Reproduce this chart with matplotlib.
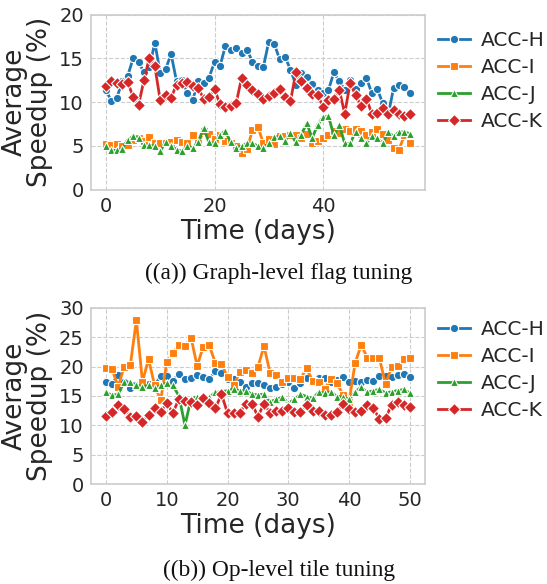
import matplotlib
matplotlib.use("Agg")
import matplotlib.pyplot as plt
import numpy as np

# ---------------- data ----------------
series_names = ["ACC-H", "ACC-I", "ACC-J", "ACC-K"]

graph_H = [11.4, 10.1, 10.5, 12.4, 13.0, 15.0, 14.6, 13.4, 14.0, 16.8, 13.3, 13.8, 15.5, 12.4, 12.5,
           11.1, 10.3, 12.4, 12.2, 12.8, 14.6, 14.1, 16.4, 16.0, 16.2, 15.6, 16.0, 14.6, 14.1, 14.0,
           16.9, 16.7, 14.9, 15.2, 13.7, 12.0, 13.3, 12.9, 12.1, 11.4, 11.1, 11.4, 13.4, 12.4, 11.4,
           12.5, 11.5, 12.2, 12.8, 11.0, 11.5, 9.9, 8.5, 11.6, 12.0, 11.7, 11.1]
graph_I = [5.2, 5.1, 5.2, 5.0, 5.1, 5.7, 5.9, 5.6, 6.0, 5.3, 5.3, 5.3, 5.5, 5.7, 5.5,
           5.3, 6.2, 5.3, 6.7, 6.4, 5.8, 6.3, 5.6, 5.3, 5.0, 4.2, 4.7, 6.8, 7.2, 5.3,
           5.8, 5.2, 6.1, 6.1, 6.3, 6.2, 5.9, 6.4, 5.3, 5.6, 5.9, 6.3, 6.7, 6.5, 6.9,
           6.7, 6.9, 6.7, 6.2, 6.6, 6.9, 6.4, 5.7, 4.8, 4.6, 6.2, 5.3]
graph_J = [5.0, 4.5, 4.5, 4.7, 5.7, 6.1, 5.9, 5.1, 5.1, 5.0, 4.4, 5.5, 5.0, 4.6, 4.4,
           5.0, 4.8, 5.5, 7.0, 5.4, 5.3, 6.3, 6.7, 5.4, 4.8, 5.0, 5.3, 5.3, 5.0, 4.8,
           5.3, 6.0, 6.1, 5.6, 6.5, 5.4, 6.3, 7.6, 5.9, 7.4, 8.3, 8.4, 6.2, 7.4, 5.3,
           5.3, 6.6, 5.9, 5.3, 6.1, 5.9, 5.3, 6.6, 6.1, 6.6, 6.6, 6.4]
graph_K = [11.9, 12.4, 12.2, 12.1, 12.3, 10.6, 9.7, 12.5, 15.1, 14.1, 10.2, 10.8, 10.5, 12.0, 12.2,
           12.3, 11.9, 11.6, 10.4, 10.6, 11.5, 9.8, 9.5, 9.6, 9.9, 12.8, 12.0, 11.4, 10.9, 10.4,
           10.7, 11.1, 11.5, 10.6, 10.1, 13.4, 12.4, 11.6, 10.9, 10.8, 9.5, 10.2, 10.4, 11.4, 8.7,
           12.2, 10.8, 9.6, 10.4, 8.7, 8.8, 9.3, 8.7, 9.1, 8.6, 8.4, 8.7]

op_H = [17.3, 17.1, 18.5, 17.3, 16.3, 16.8, 16.5, 17.0, 16.8, 18.4, 18.4, 17.6, 18.8, 17.8, 18.1,
        18.6, 18.2, 17.8, 19.3, 18.9, 17.8, 17.8, 17.3, 16.6, 17.2, 17.2, 16.9, 16.4, 16.6, 17.0,
        17.3, 16.4, 17.2, 18.0, 17.6, 18.0, 18.0, 17.4, 17.7, 18.2, 17.3, 17.6, 17.3, 17.7, 17.6,
        18.4, 18.4, 18.2, 18.6, 18.8, 18.2]
op_I = [19.7, 19.5, 16.6, 20.0, 20.2, 27.9, 17.4, 21.3, 16.8, 14.3, 20.7, 22.3, 23.7, 23.5, 24.9,
        20.1, 23.4, 23.6, 20.6, 20.5, 18.2, 16.8, 19.0, 19.4, 18.9, 19.9, 23.5, 18.9, 18.6, 17.4,
        18.1, 18.0, 17.9, 19.7, 17.6, 17.4, 16.2, 17.9, 17.2, 15.2, 14.0, 20.6, 23.7, 21.5, 21.5,
        21.4, 17.0, 19.9, 20.1, 21.3, 21.4]
op_J = [15.6, 15.1, 15.3, 17.4, 17.3, 16.8, 16.6, 16.8, 16.3, 16.8, 17.2, 16.8, 15.0, 10.0, 14.6,
        14.8, 14.6, 14.8, 15.6, 15.7, 15.9, 16.2, 15.9, 15.9, 15.3, 15.2, 15.3, 14.0, 14.4, 14.8,
        13.8, 14.4, 15.3, 14.9, 14.6, 15.6, 15.5, 15.7, 14.9, 14.9, 14.4, 15.7, 16.5, 15.6, 15.9,
        16.1, 15.5, 15.7, 15.9, 16.1, 15.5]
op_K = [11.6, 12.3, 13.5, 12.7, 11.4, 11.6, 10.6, 11.8, 12.9, 12.3, 13.8, 12.1, 14.5, 14.1, 13.9,
        13.5, 14.6, 13.8, 12.9, 15.3, 12.1, 12.1, 12.1, 13.7, 13.7, 11.5, 13.7, 12.1, 12.5, 12.5,
        12.9, 12.2, 12.3, 13.4, 12.5, 12.5, 11.8, 11.8, 12.3, 13.7, 12.8, 12.3, 12.4, 13.5, 13.0,
        11.0, 11.2, 13.5, 14.0, 13.5, 13.2]

graph_days = list(range(len(graph_H)))
op_days = list(range(len(op_H)))

top_yticks = [0, 5, 10, 15, 20]
top_xticks = [0, 20, 40]
bot_yticks = [0, 5, 10, 15, 20, 25, 30]
bot_xticks = [0, 10, 20, 30, 40, 50]

captions = ["((a)) Graph-level flag tuning", "((b)) Op-level tile tuning"]

# ---------------- style ----------------
colors = ["#1f77b4", "#ff7f0e", "#2ca02c", "#d62728"]
markers = ["o", "s", "^", "D"]
msizes = [6, 6, 6, 6]

fig = plt.figure(figsize=(5.47, 5.84), dpi=100)

def draw(ax, days, data, xticks, yticks, ylim, xlim, leg_y):
    for name, ys, c, m, ms in zip(series_names, data, colors, markers, msizes):
        ax.plot(days, ys, color=c, marker=m, markersize=ms, linewidth=2,
                markeredgecolor="white", markeredgewidth=0.8, label=name)
    ax.set_xticks(xticks)
    ax.set_yticks(yticks)
    ax.set_ylim(*ylim)
    ax.set_xlim(*xlim)
    ax.grid(True, linestyle="--", color="#cccccc", linewidth=0.8)
    ax.set_axisbelow(True)
    for s in ax.spines.values():
        s.set_color("#cccccc")
        s.set_linewidth(1.2)
    ax.tick_params(axis="both", labelsize=14, length=0, colors="#262626", pad=5)
    ax.set_xlabel("Time (days)", fontsize=19, color="#262626", labelpad=2)
    ax.set_ylabel("Average\nSpeedup (%)", fontsize=19, color="#262626", labelpad=4,
                  linespacing=1.0)
    leg = ax.legend(loc="upper left", bbox_to_anchor=(1.039, leg_y), frameon=False,
                    fontsize=14.5, handlelength=1.6, labelspacing=0.4, handletextpad=0.5,
                    borderaxespad=0.0, borderpad=0.0)
    for t in leg.get_texts():
        t.set_color("#262626")

ax1 = fig.add_axes([0.166, 0.675, 0.611, 0.300])
draw(ax1, graph_days, [graph_H, graph_I, graph_J, graph_K], top_xticks, top_yticks,
     (0, 20), (-2.8, 58.8), 0.905)

ax2 = fig.add_axes([0.166, 0.171, 0.611, 0.302])
draw(ax2, op_days, [op_H, op_I, op_J, op_K], bot_xticks, bot_yticks,
     (0, 30), (-2.5, 52.5), 0.93)

fig.text(0.51, 0.532, captions[0], ha="center", va="center", fontsize=16.8,
         family=["Liberation Serif", "DejaVu Serif"], color="#111111")
fig.text(0.51, 0.024, captions[1], ha="center", va="center", fontsize=16.8,
         family=["Liberation Serif", "DejaVu Serif"], color="#111111")

fig.savefig("out.png", dpi=100, facecolor="white")
